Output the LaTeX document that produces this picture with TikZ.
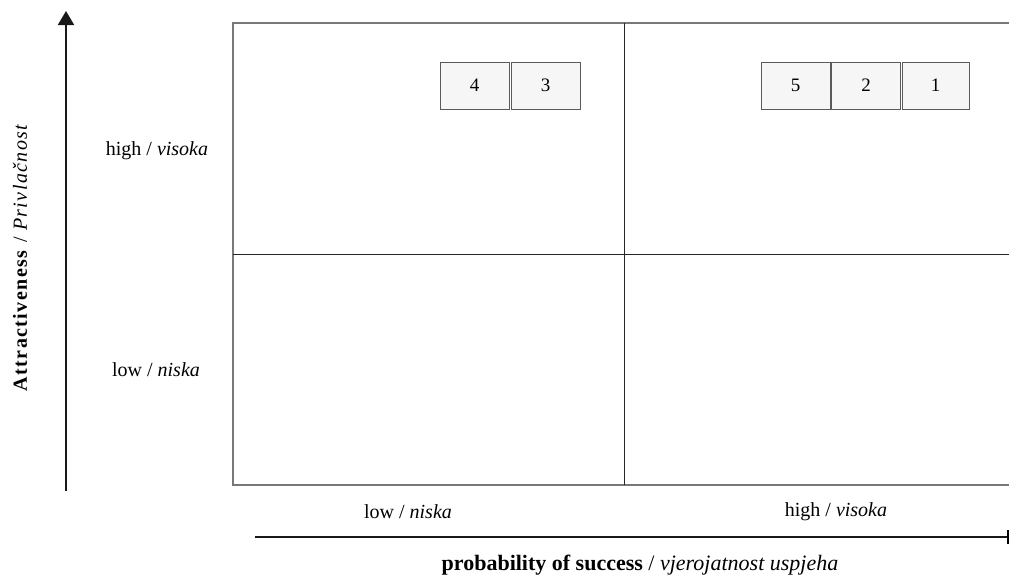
\documentclass[tikz,border=0pt]{standalone}
\usepackage{fontspec}
\setmainfont{Liberation Serif}
\usetikzlibrary{arrows.meta}
\definecolor{gridgray}{RGB}{120,120,120}
\definecolor{boxfill}{RGB}{246,246,246}
\definecolor{boxline}{RGB}{90,90,90}
\begin{document}
\begin{tikzpicture}[x=1pt,y=-1pt,
  lab/.style={font=\fontsize{20}{22}\selectfont, inner sep=0pt},
  numbox/.style={draw=boxline, fill=boxfill, line width=0.9pt, minimum width=69pt, minimum height=47pt, inner sep=0pt, font=\fontsize{19}{21}\selectfont},
  outer/.style={draw=gridgray, line width=1.4pt},
  inner/.style={draw=black!85, line width=0.7pt},
  axis/.style={draw=black!90, line width=2pt}]
\useasboundingbox (0,0) rectangle (1009,576);
% grid
\draw[outer] (1009,23) -- (233,23) -- (233,485) -- (1009,485);
\draw[inner] (624,23) -- (624,485);
\draw[inner] (233,254) -- (1009,254);
% boxes
\node[numbox] (b4) at (474.5,85.5) {\raisebox{-2pt}{4}};
\node[numbox] (b3) at (545.5,85.5) {\raisebox{-2pt}{3}};
\node[numbox] (b5) at (795.5,85.5) {\raisebox{-2pt}{5}};
\node[numbox] (b2) at (866,85.5) {\raisebox{-2pt}{2}};
\node[numbox, minimum width=67pt] (b1) at (935.5,85.5) {\raisebox{-2pt}{1}};
% vertical axis
\coordinate (vbot) at (66,491);
\coordinate (vtop) at (66,11);
\draw[axis, -{Triangle[width=16pt,length=14pt]}] (vbot) -- (vtop);
% horizontal axis
\coordinate (hl) at (255,537);
\coordinate (hr) at (1008,537);
\draw[axis] (hl) -- (hr);
\draw[line width=1.4pt] (1008,530) -- (1008,544);
% labels
\node[lab] (yhigh) at (157,151) {high / \textit{visoka}};
\node[lab] (ylow) at (156,370) {low / \textit{niska}};
\node[lab] (xlow) at (408,512) {low / \textit{niska}};
\node[lab] (xhigh) at (836,512) {high / \textit{visoka}};
\node[lab, font=\fontsize{22}{24}\selectfont] (xtitle) at (640,565) {\textbf{probability of success} / \textit{vjerojatnost uspjeha}};
\node[lab, rotate=90] (ytitle) at (20,257) {\addfontfeature{LetterSpace=7}\textbf{Attractiveness} / \textit{Privlačnost}};
\end{tikzpicture}
\end{document}
